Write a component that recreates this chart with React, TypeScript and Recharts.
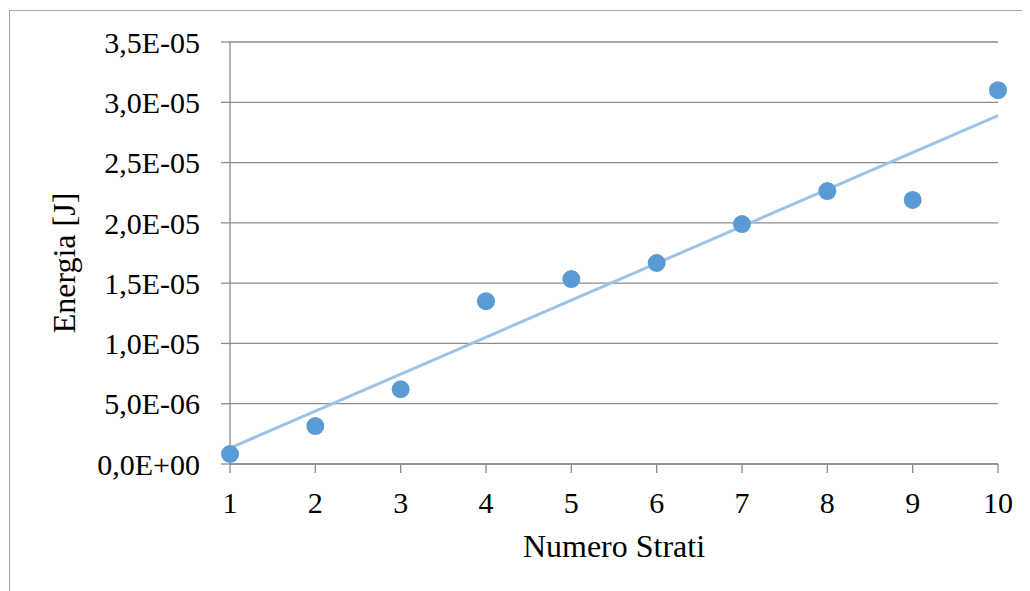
import {
  ScatterChart, Scatter, XAxis, YAxis, CartesianGrid, ReferenceLine,
} from 'recharts';

const strati = [1, 2, 3, 4, 5, 6, 7, 8, 9, 10];
const energia = [
  8.3e-7, 3.15e-6, 6.2e-6, 1.35e-5, 1.534e-5, 1.667e-5, 1.99e-5, 2.264e-5, 2.19e-5, 3.1e-5,
];
const xTicks = [1, 2, 3, 4, 5, 6, 7, 8, 9, 10];
const yTicks = [0, 5e-6, 1e-5, 1.5e-5, 2e-5, 2.5e-5, 3e-5, 3.5e-5];

const points = strati.map((x, i) => ({ x, y: energia[i] }));

// linear trend line (least squares), like the spreadsheet trendline
const n = strati.length;
const mx = strati.reduce((a, b) => a + b, 0) / n;
const my = energia.reduce((a, b) => a + b, 0) / n;
let sxy = 0;
let sxx = 0;
strati.forEach((x, i) => {
  sxy += (x - mx) * (energia[i] - my);
  sxx += (x - mx) * (x - mx);
});
const slope = sxy / sxx;
const intercept = my - slope * mx;
const x0 = strati[0];
const x1 = strati[n - 1];

const FONT = '"Liberation Serif", "Times New Roman", serif';
const GRID = '#8c8c8c';

function sci(v: number) {
  if (v === 0) return '0,0E+00';
  const [m, e] = v.toExponential(1).split('e');
  const ex = parseInt(e, 10);
  const sign = ex < 0 ? '-' : '+';
  return `${m.replace('.', ',')}E${sign}${String(Math.abs(ex)).padStart(2, '0')}`;
}

export default function App() {
  return (
    <div style={{ position: 'relative', width: 1022, height: 583, overflow: 'hidden' }}>
      <div
        style={{
          position: 'absolute', left: 1, top: 2, width: 1200, height: 800,
          borderTop: '1px solid #a6a6a6', borderLeft: '1px solid #a6a6a6',
        }}
      />
      <div style={{ position: 'absolute', left: 0, top: 0 }}>
        <ScatterChart width={1022} height={583} margin={{ top: 34, right: 32, bottom: 27, left: 22 }}>
          <CartesianGrid vertical={false} stroke={GRID} strokeWidth={1.3} />
          <XAxis
            type="number"
            dataKey="x"
            domain={[1, 10]}
            ticks={xTicks}
            allowDecimals={false}
            height={100}
            stroke={GRID}
            strokeWidth={1.3}
            tickSize={9}
            tickMargin={19}
            tick={{ fill: '#000', fontSize: 30, fontFamily: FONT }}
            label={{
              content: (p: any) => {
                const vb = p.viewBox || {};
                return (
                  <text
                    x={vb.x + vb.width / 2}
                    y={vb.y + 93}
                    textAnchor="middle"
                    fontSize={32}
                    fontFamily={FONT}
                    fill="#000"
                  >
                    Numero Strati
                  </text>
                );
              },
            }}
          />
          <YAxis
            type="number"
            dataKey="y"
            domain={[0, 3.5e-5]}
            ticks={yTicks}
            width={200}
            stroke={GRID}
            strokeWidth={1.3}
            tickSize={9}
            tickMargin={21}
            tickFormatter={sci}
            tick={{ fill: '#000', fontSize: 30, fontFamily: FONT }}
            label={{
              content: (p: any) => {
                const vb = p.viewBox || {};
                const cx = vb.x + 45;
                const cy = vb.y + vb.height / 2 + 10;
                return (
                  <text
                    x={cx}
                    y={cy}
                    transform={`rotate(-90, ${cx}, ${cy})`}
                    textAnchor="middle"
                    fontSize={32}
                    fontFamily={FONT}
                    fill="#000"
                  >
                    Energia [J]
                  </text>
                );
              },
            }}
          />
          <Scatter
            data={points}
            fill="#5b9bd5"
            isAnimationActive={false}
            shape={(props: any) => (
              <circle cx={props.cx} cy={props.cy} r={9} fill="#5b9bd5" />
            )}
          />
          <ReferenceLine
            segment={[
              { x: x0, y: intercept + slope * x0 },
              { x: x1, y: intercept + slope * x1 },
            ]}
            stroke="#9dc3e6"
            strokeWidth={3}
          />
        </ScatterChart>
      </div>
    </div>
  );
}
